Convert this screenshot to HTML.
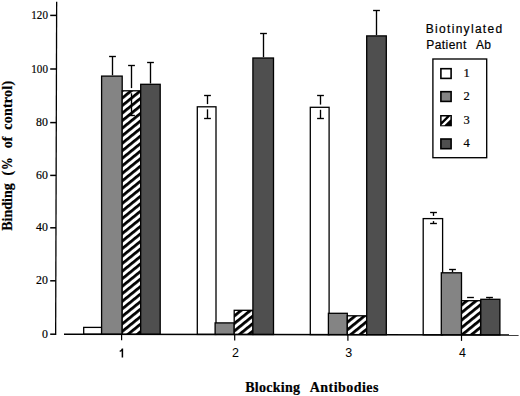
<!DOCTYPE html><html><head><meta charset="utf-8"><style>
html,body{margin:0;padding:0;background:#fff;}
svg{display:block;}
.ser{font-family:"Liberation Serif",serif;}
.san{font-family:"Liberation Sans",sans-serif;stroke:#000;stroke-width:0.2px;}
.ser{stroke:#000;stroke-width:0.2px;}
</style></head><body>
<svg width="520" height="396" viewBox="0 0 520 396">
<defs><pattern id="hatch" patternUnits="userSpaceOnUse" width="40" height="5.85" patternTransform="rotate(-39.0) translate(0,-0.36)"><rect x="0" y="0" width="40" height="5.85" fill="#fff"/><rect x="0" y="0" width="40" height="2.8" fill="#000"/></pattern></defs>
<rect x="0" y="0" width="520" height="396" fill="#fff"/>
<rect x="83.70" y="327.40" width="17.90" height="6.83" fill="#ffffff" stroke="#000" stroke-width="1.3"/>
<rect x="101.60" y="76.10" width="20.60" height="258.17" fill="#848484" stroke="#000" stroke-width="1.3"/>
<rect x="122.20" y="90.80" width="18.50" height="243.50" fill="url(#hatch)" stroke="#000" stroke-width="1.3"/>
<rect x="140.70" y="84.30" width="19.50" height="250.03" fill="#4f4f4f" stroke="#000" stroke-width="1.3"/>
<line x1="112.5" y1="56.5" x2="112.5" y2="75.30" stroke="#000" stroke-width="1.35"/>
<line x1="109.1" y1="56.5" x2="115.9" y2="56.5" stroke="#000" stroke-width="1.35"/>
<line x1="131.5" y1="65.5" x2="131.5" y2="88.10" stroke="#000" stroke-width="1.35"/>
<line x1="128.1" y1="65.5" x2="134.9" y2="65.5" stroke="#000" stroke-width="1.35"/>
<line x1="131.5" y1="93.30" x2="131.5" y2="115.5" stroke="#000" stroke-width="1.35"/>
<line x1="128.1" y1="115.5" x2="134.9" y2="115.5" stroke="#000" stroke-width="1.35"/>
<line x1="150.5" y1="62.5" x2="150.5" y2="83.50" stroke="#000" stroke-width="1.35"/>
<line x1="147.1" y1="62.5" x2="153.9" y2="62.5" stroke="#000" stroke-width="1.35"/>
<rect x="197.30" y="106.80" width="18.70" height="227.63" fill="#ffffff" stroke="#000" stroke-width="1.3"/>
<rect x="215.10" y="322.90" width="19.10" height="11.57" fill="#848484" stroke="#000" stroke-width="1.3"/>
<rect x="234.20" y="310.30" width="18.70" height="24.20" fill="url(#hatch)" stroke="#000" stroke-width="1.3"/>
<rect x="252.90" y="58.00" width="20.60" height="276.53" fill="#4f4f4f" stroke="#000" stroke-width="1.3"/>
<line x1="207.5" y1="95.5" x2="207.5" y2="104.10" stroke="#000" stroke-width="1.35"/>
<line x1="204.1" y1="95.5" x2="210.9" y2="95.5" stroke="#000" stroke-width="1.35"/>
<line x1="207.5" y1="109.30" x2="207.5" y2="118.5" stroke="#000" stroke-width="1.35"/>
<line x1="204.1" y1="118.5" x2="210.9" y2="118.5" stroke="#000" stroke-width="1.35"/>
<line x1="263.5" y1="33.5" x2="263.5" y2="57.20" stroke="#000" stroke-width="1.35"/>
<line x1="260.1" y1="33.5" x2="266.9" y2="33.5" stroke="#000" stroke-width="1.35"/>
<rect x="310.30" y="107.30" width="18.80" height="227.33" fill="#ffffff" stroke="#000" stroke-width="1.3"/>
<rect x="328.40" y="313.30" width="18.90" height="21.37" fill="#848484" stroke="#000" stroke-width="1.3"/>
<rect x="347.30" y="315.80" width="19.40" height="18.90" fill="url(#hatch)" stroke="#000" stroke-width="1.3"/>
<rect x="366.70" y="35.90" width="19.60" height="298.83" fill="#4f4f4f" stroke="#000" stroke-width="1.3"/>
<line x1="320.5" y1="95.5" x2="320.5" y2="104.60" stroke="#000" stroke-width="1.35"/>
<line x1="317.1" y1="95.5" x2="323.9" y2="95.5" stroke="#000" stroke-width="1.35"/>
<line x1="320.5" y1="109.80" x2="320.5" y2="118.5" stroke="#000" stroke-width="1.35"/>
<line x1="317.1" y1="118.5" x2="323.9" y2="118.5" stroke="#000" stroke-width="1.35"/>
<line x1="376.5" y1="10.5" x2="376.5" y2="35.10" stroke="#000" stroke-width="1.35"/>
<line x1="373.1" y1="10.5" x2="379.9" y2="10.5" stroke="#000" stroke-width="1.35"/>
<rect x="423.20" y="218.60" width="19.40" height="116.23" fill="#ffffff" stroke="#000" stroke-width="1.3"/>
<rect x="441.30" y="272.80" width="20.20" height="62.06" fill="#848484" stroke="#000" stroke-width="1.3"/>
<rect x="461.50" y="300.70" width="19.10" height="34.20" fill="url(#hatch)" stroke="#000" stroke-width="1.3"/>
<rect x="480.80" y="299.30" width="19.10" height="35.63" fill="#4f4f4f" stroke="#000" stroke-width="1.3"/>
<line x1="433.5" y1="212.5" x2="433.5" y2="215.90" stroke="#000" stroke-width="1.35"/>
<line x1="430.1" y1="212.5" x2="436.9" y2="212.5" stroke="#000" stroke-width="1.35"/>
<line x1="433.5" y1="221.10" x2="433.5" y2="223.5" stroke="#000" stroke-width="1.35"/>
<line x1="430.1" y1="223.5" x2="436.9" y2="223.5" stroke="#000" stroke-width="1.35"/>
<line x1="452.5" y1="269.5" x2="452.5" y2="272.00" stroke="#000" stroke-width="1.35"/>
<line x1="449.1" y1="269.5" x2="455.9" y2="269.5" stroke="#000" stroke-width="1.35"/>
<line x1="470.5" y1="297.5" x2="470.5" y2="298.00" stroke="#000" stroke-width="1.35"/>
<line x1="467.1" y1="297.5" x2="473.9" y2="297.5" stroke="#000" stroke-width="1.35"/>
<line x1="489.5" y1="297.5" x2="489.5" y2="298.50" stroke="#000" stroke-width="1.35"/>
<line x1="486.1" y1="297.5" x2="492.9" y2="297.5" stroke="#000" stroke-width="1.35"/>
<line x1="56.65" y1="1.8" x2="55.65" y2="334.9" stroke="#000" stroke-width="1.3"/>
<line x1="64" y1="334.2" x2="518.6" y2="335.0" stroke="#000" stroke-width="1.35"/>
<line x1="50.2" y1="334.20" x2="55.65" y2="334.20" stroke="#000" stroke-width="1.5"/>
<text class="ser" font-size="13" text-anchor="end" transform="translate(47.9,337.80) scale(0.91,1)">0</text>
<line x1="50.2" y1="280.80" x2="55.81" y2="280.80" stroke="#000" stroke-width="1.5"/>
<text class="ser" font-size="13" text-anchor="end" transform="translate(47.9,284.40) scale(0.91,1)">20</text>
<line x1="50.2" y1="227.80" x2="55.97" y2="227.80" stroke="#000" stroke-width="1.5"/>
<text class="ser" font-size="13" text-anchor="end" transform="translate(47.9,231.40) scale(0.91,1)">40</text>
<line x1="50.2" y1="175.40" x2="56.13" y2="175.40" stroke="#000" stroke-width="1.5"/>
<text class="ser" font-size="13" text-anchor="end" transform="translate(47.9,179.00) scale(0.91,1)">60</text>
<line x1="50.2" y1="122.60" x2="56.29" y2="122.60" stroke="#000" stroke-width="1.5"/>
<text class="ser" font-size="13" text-anchor="end" transform="translate(47.9,126.20) scale(0.91,1)">80</text>
<line x1="50.2" y1="69.00" x2="56.45" y2="69.00" stroke="#000" stroke-width="1.5"/>
<text class="ser" font-size="13" text-anchor="end" transform="translate(47.9,72.60) scale(0.85,1)">100</text>
<line x1="50.2" y1="15.40" x2="56.61" y2="15.40" stroke="#000" stroke-width="1.5"/>
<text class="ser" font-size="13" text-anchor="end" transform="translate(47.9,19.00) scale(0.85,1)">120</text>
<line x1="121.6" y1="334.30" x2="121.6" y2="340.30" stroke="#000" stroke-width="1.2"/>
<path d="M119.70,351.4 C121.10,351.0 122.20,350.2 122.40,348.5 L122.40,357.4" fill="none" stroke="#000" stroke-width="1.5"/>
<line x1="234.7" y1="334.50" x2="234.7" y2="340.50" stroke="#000" stroke-width="1.2"/>
<text class="san" x="235.60" y="357.4" font-size="12.5" text-anchor="middle" style="stroke-width:0px">2</text>
<line x1="347.9" y1="334.70" x2="347.9" y2="340.70" stroke="#000" stroke-width="1.2"/>
<text class="san" x="348.80" y="357.4" font-size="12.5" text-anchor="middle" style="stroke-width:0px">3</text>
<line x1="461.5" y1="334.90" x2="461.5" y2="340.90" stroke="#000" stroke-width="1.2"/>
<text class="san" x="462.40" y="357.4" font-size="12.5" text-anchor="middle" style="stroke-width:0px">4</text>
<text class="ser" x="245.2" y="391.6" font-size="14" font-weight="bold" letter-spacing="0.28">Blocking</text>
<text class="ser" x="309.8" y="391.6" font-size="14" font-weight="bold" letter-spacing="0.45">Antibodies</text>
<g transform="translate(11.5,230.8) rotate(-90)"><text class="ser" x="0" y="0" font-size="14" font-weight="bold">Binding</text><text class="ser" x="55.3" y="0" font-size="14" font-weight="bold">(</text><text class="ser" x="60.8" y="0" font-size="14" font-weight="bold" transform="translate(60.8,0) scale(0.9,1) translate(-60.8,0)">%</text><text class="ser" x="82.5" y="0" font-size="14" font-weight="bold">of</text><text class="ser" x="101" y="0" font-size="14" font-weight="bold" letter-spacing="0.25">control)</text></g>
<text class="san" x="425.8" y="32.8" font-size="12" letter-spacing="1.3">Biotinylated</text>
<text class="san" x="426.2" y="48.7" font-size="12" letter-spacing="0.45">Patient</text>
<text class="san" x="476" y="48.7" font-size="12" letter-spacing="0.35">Ab</text>
<rect x="432.9" y="59" width="53.8" height="98.7" fill="none" stroke="#000" stroke-width="1.35"/>
<rect x="440.9" y="68.70" width="10.2" height="9.7" fill="#fff" stroke="#000" stroke-width="1.6"/>
<text class="ser" x="463.4" y="76.50" font-size="12.5">1</text>
<rect x="440.9" y="91.70" width="10.2" height="9.7" fill="#848484" stroke="#000" stroke-width="1.6"/>
<text class="ser" x="463.4" y="99.50" font-size="12.5">2</text>
<rect x="440.9" y="115.80" width="10.2" height="9.7" fill="#000" stroke="#000" stroke-width="1.6"/>
<polygon points="441.60,116.50 446.60,116.50 441.60,121.50" fill="#fff"/>
<polygon points="441.20,125.30 450.40,116.10 450.40,119.40 444.50,125.30" fill="#fff"/>
<text class="ser" x="463.4" y="123.60" font-size="12.5">3</text>
<rect x="440.9" y="139.00" width="10.2" height="9.7" fill="#4f4f4f" stroke="#000" stroke-width="1.6"/>
<text class="ser" x="463.4" y="146.80" font-size="12.5">4</text>
</svg></body></html>
